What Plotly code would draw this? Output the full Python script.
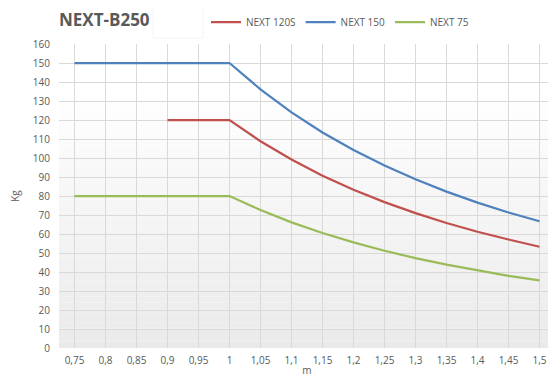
import plotly.graph_objects as go

categories = ["0,75", "0,8", "0,85", "0,9", "0,95", "1", "1,05", "1,1", "1,15",
              "1,2", "1,25", "1,3", "1,35", "1,4", "1,45", "1,5"]
next_120s = [None, None, None, 120, 120, 120, 108.8, 99.2, 90.7, 83.3, 76.8,
             71.0, 65.8, 61.2, 57.1, 53.3]
next_150 = [150, 150, 150, 150, 150, 150, 136.1, 124.0, 113.4, 104.2, 96.0,
            88.8, 82.3, 76.5, 71.3, 66.7]
next_75 = [80, 80, 80, 80, 80, 80, 72.6, 66.1, 60.5, 55.6, 51.2,
           47.3, 43.9, 40.8, 38.0, 35.6]

# page has an 8px body margin; figure is sized to fit the 556x381 window
OFF = 8
W, H = 556 - OFF, 381 - OFF
ML, MR, MT, MB = 59 - OFF, 1, 44 - OFF, 33
FONT = "Open Sans"
GRAY = "#595959"

fig = go.Figure()
series = [("NEXT 120S", next_120s, "#c0504d"),
          ("NEXT 150", next_150, "#4f81bd"),
          ("NEXT 75", next_75, "#9bbb59")]
for name, vals, col in series:
    fig.add_trace(go.Scatter(x=categories, y=vals, name=name, mode="lines",
                             line=dict(color=col, width=2.25),
                             connectgaps=False, hoverinfo="x+y+name"))

pw = W - ML - MR
ph = H - MT - MB
def px_x(p):  # page pixel -> paper
    return (p - OFF - ML) / pw
def px_y(p):
    return (H - MB - (p - OFF)) / ph

# gradient background in plot area
shapes = []
n = 40
top_white = 0.85
for i in range(n):
    y0 = top_white * i / n
    y1 = top_white * (i + 1) / n
    t = 1 - (y0 + y1) / 2 / top_white
    v = int(round(255 - t * (255 - 234)))
    shapes.append(dict(type="rect", xref="paper", yref="paper", x0=0, x1=1,
                       y0=y0, y1=y1, fillcolor=f"rgb({v},{v},{v})",
                       line=dict(width=0), layer="below"))
# faint box next to title
shapes.append(dict(type="rect", xref="paper", yref="paper",
                   x0=px_x(153), x1=px_x(203), y0=px_y(38), y1=px_y(7),
                   line=dict(color="#f4f4f4", width=1), fillcolor="rgba(0,0,0,0)"))

fig.update_layout(
    width=W, height=H,
    margin=dict(l=ML, r=MR, t=MT, b=MB, pad=0, autoexpand=False),
    paper_bgcolor="white", plot_bgcolor="rgba(0,0,0,0)",
    font=dict(family=FONT, color=GRAY, size=10),
    shapes=shapes,
    showlegend=True,
    legend=dict(orientation="h", xref="container", yref="container",
                x=(206 - OFF) / W, xanchor="left", y=1 - (22 - OFF) / H,
                yanchor="middle", font=dict(size=10, color=GRAY, family=FONT),
                bgcolor="rgba(0,0,0,0)", itemwidth=30, tracegroupgap=0),
    annotations=[dict(text="<b>NEXT-B250</b>", xref="paper", yref="paper",
                      x=px_x(57), y=px_y(20), xanchor="left", yanchor="middle",
                      showarrow=False,
                      font=dict(size=17, color="#595959", family=FONT))],
    xaxis=dict(type="category", categoryorder="array", categoryarray=categories,
               range=[-0.5, len(categories) - 0.5], automargin=False,
               showgrid=True, gridcolor="#d9d9d9", gridwidth=1,
               zeroline=False, showline=False, ticks="",
               tickfont=dict(size=10, color=GRAY, family=FONT),
               ticklabelstandoff=5,
               title=dict(text="m", font=dict(size=10, color=GRAY, family=FONT),
                          standoff=0)),
    yaxis=dict(range=[0, 160], dtick=10, tick0=0, automargin=False,
               showgrid=True, gridcolor="#d9d9d9", gridwidth=1,
               zeroline=False, showline=False, ticks="",
               tickfont=dict(size=10, color=GRAY, family=FONT),
               ticklabelstandoff=8,
               title=dict(text="Kg", font=dict(size=10, color=GRAY, family=FONT),
                          standoff=13)),
)
fig.write_html("out.html")
